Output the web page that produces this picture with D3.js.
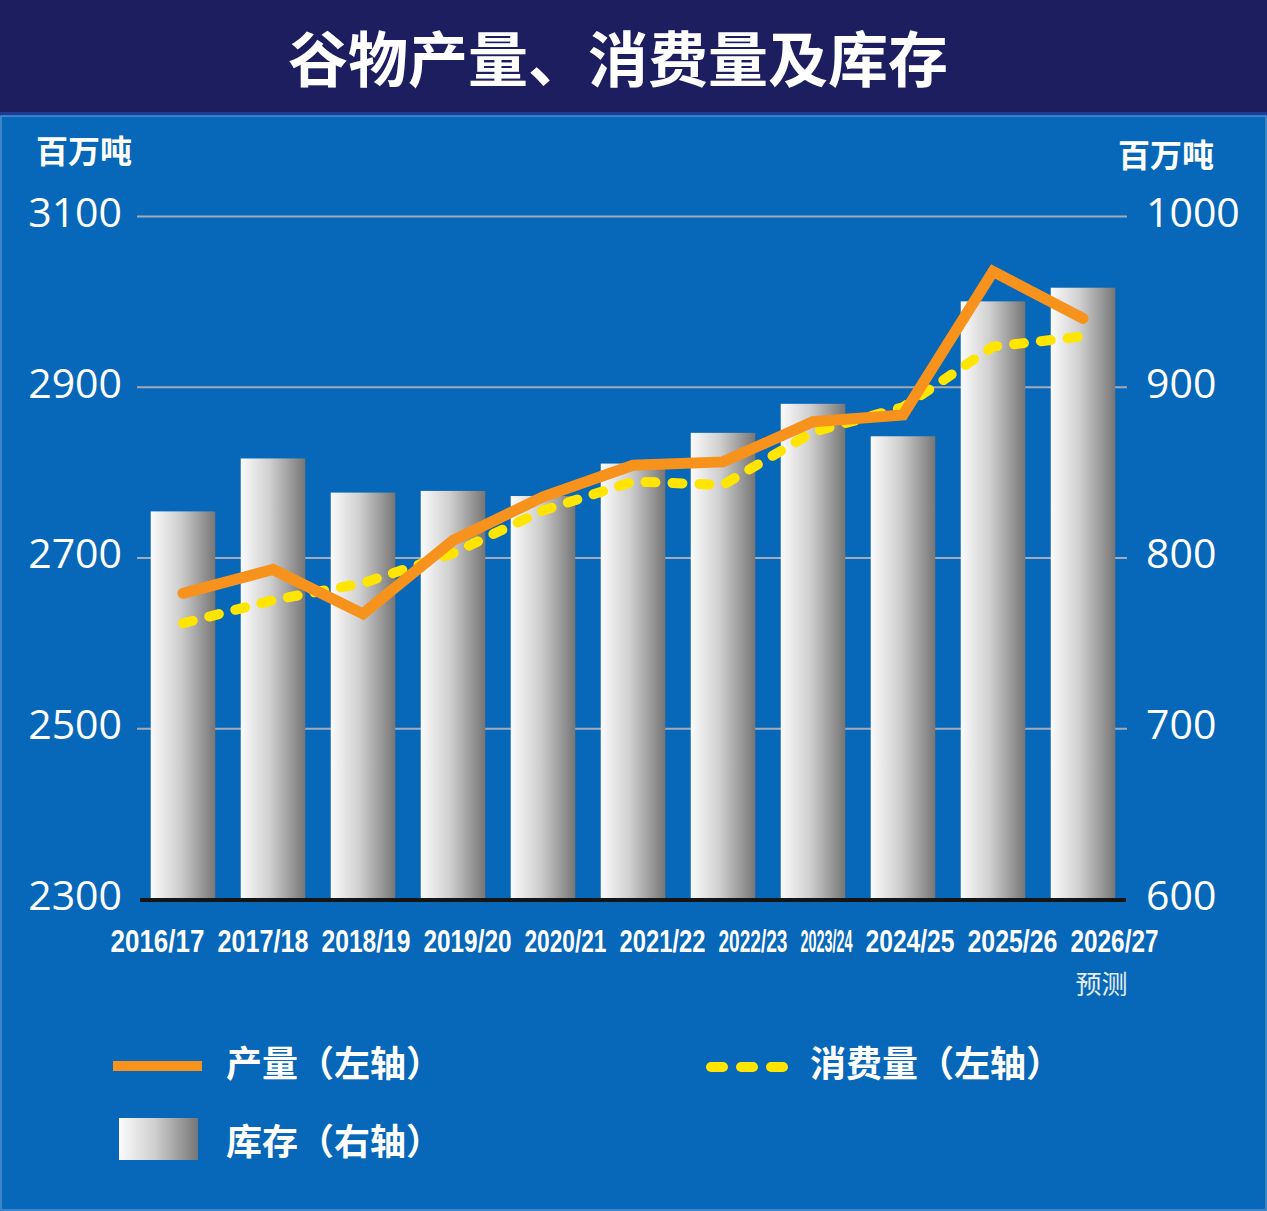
<!DOCTYPE html>
<html>
<head>
<meta charset="utf-8">
<script src="https://cdnjs.cloudflare.com/ajax/libs/d3/7.8.5/d3.min.js"></script>
<style>
  body { margin: 0; background: #0767b6; }
  svg { display: block; }
</style>
</head>
<body>
<div id="chart"></div>
<script>
// values (million tonnes)
var years = ["2016/17", "2017/18", "2018/19", "2019/20", "2020/21", "2021/22",
             "2022/23", "2023/24", "2024/25", "2025/26", "2026/27"];
var production  = [2658, 2686, 2634, 2720, 2771, 2808, 2812, 2859, 2867, 3035, 2980];
var consumption = [2623, 2650, 2670, 2705, 2755, 2789, 2785, 2847, 2876, 2947, 2959];
var stocks      = [827, 858, 838, 839, 836, 855, 873, 890, 871, 950, 958];
var leftTicks  = [2300, 2500, 2700, 2900, 3100];
var rightTicks = [600, 700, 800, 900, 1000];

var W = 1267, H = 1211;
var blue = "#0767b8", navy = "#1c1e60";
var orange = "#f7921c", yellow = "#ffe500";
var cjk = "'Noto Sans CJK SC', 'Noto Sans', sans-serif";

var svg = d3.select("#chart").append("svg")
  .attr("width", W)
  .attr("height", H);

var defs = svg.append("defs");
var grad = defs.append("linearGradient")
  .attr("id", "barGrad")
  .attr("x1", "0%").attr("x2", "100%")
  .attr("y1", "0%").attr("y2", "0%");
grad.append("stop").attr("offset", "0%").attr("stop-color", "#fbfbfb");
grad.append("stop").attr("offset", "45%").attr("stop-color", "#cfcfcf");
grad.append("stop").attr("offset", "100%").attr("stop-color", "#767676");

// background + title band
svg.append("rect").attr("width", W).attr("height", H).attr("fill", blue);
svg.append("rect").attr("width", W).attr("height", 113).attr("fill", navy);
svg.append("rect").attr("y", 112).attr("width", W).attr("height", 4).attr("fill", "#1b3d98");
svg.append("rect").attr("x", 1).attr("y", 116).attr("width", W - 2).attr("height", H - 117)
  .attr("fill", "none").attr("stroke", "#4f8fcc").attr("stroke-width", 1.5);

svg.append("text")
  .attr("x", 618).attr("y", 55)
  .attr("text-anchor", "middle")
  .attr("dominant-baseline", "central")
  .attr("fill", "#fff")
  .style("font-family", cjk)
  .style("font-weight", 700)
  .style("font-size", "60px")
  .text("谷物产量、消费量及库存");

// scales
var x = d3.scaleBand().domain(years).range([138, 1128])
  .paddingInner(0.283).paddingOuter(0.1415);
var yL = d3.scaleLinear().domain([2300, 3100]).range([899, 216]);
var yR = d3.scaleLinear().domain([600, 1000]).range([899, 216]);

// gridlines
svg.append("g")
  .attr("transform", "translate(1127,0)")
  .call(d3.axisLeft(yL).tickValues(leftTicks.slice(1)).tickSize(990).tickFormat(""))
  .call(function (g) {
    g.select(".domain").remove();
    g.selectAll("line").attr("stroke", "#a3abba").attr("stroke-width", 2);
  });

// axis labels
function styleTicks(g) {
  g.select(".domain").remove();
  g.selectAll("text")
    .attr("dy", "0.25em")
    .attr("fill", "#fff")
    .style("font-family", "'Open Sans', sans-serif")
    .style("font-size", "41px");
}

svg.append("g")
  .attr("transform", "translate(122,0)")
  .call(d3.axisLeft(yL).tickValues(leftTicks).tickSize(0).tickPadding(0).tickFormat(d3.format("d")))
  .call(styleTicks);

svg.append("g")
  .attr("transform", "translate(1146,0)")
  .call(d3.axisRight(yR).tickValues(rightTicks).tickSize(0).tickPadding(0).tickFormat(d3.format("d")))
  .call(styleTicks);

svg.append("text").attr("x", 36).attr("y", 149)
  .attr("dominant-baseline", "central").attr("fill", "#fff")
  .style("font-family", cjk).style("font-weight", 700).style("font-size", "32px")
  .text("百万吨");
svg.append("text").attr("x", 1118).attr("y", 153)
  .attr("dominant-baseline", "central").attr("fill", "#fff")
  .style("font-family", cjk).style("font-weight", 700).style("font-size", "32px")
  .text("百万吨");

// stock bars (right axis)
svg.append("g").selectAll("rect")
  .data(stocks)
  .enter().append("rect")
  .attr("x", function (d, i) { return x(years[i]); })
  .attr("y", function (d) { return yR(d); })
  .attr("width", x.bandwidth())
  .attr("height", function (d) { return yR(600) - yR(d); })
  .attr("fill", "url(#barGrad)");

// baseline
svg.append("line")
  .attr("x1", 140).attr("x2", 1126)
  .attr("y1", yL(2300) + 1).attr("y2", yL(2300) + 1)
  .attr("stroke", "#151515").attr("stroke-width", 4);

// lines (left axis)
var line = d3.line()
  .x(function (d, i) { return x(years[i]) + x.bandwidth() / 2; })
  .y(function (d) { return yL(d); });

svg.append("path")
  .datum(consumption)
  .attr("d", line)
  .attr("fill", "none")
  .attr("stroke", yellow)
  .attr("stroke-width", 10)
  .attr("stroke-linecap", "round")
  .attr("stroke-dasharray", "10,17");

svg.append("path")
  .datum(production)
  .attr("d", line)
  .attr("fill", "none")
  .attr("stroke", orange)
  .attr("stroke-width", 11)
  .attr("stroke-linejoin", "miter")
  .attr("stroke-linecap", "round");

// category labels, set as one running condensed line like the original
var labelWidth = [94, 91, 89, 88, 82, 86, 69, 52, 89, 90, 88];
var labelGap = 13;
var labelX = [];
var cursor = 110.5;
labelWidth.forEach(function (w) { labelX.push(cursor); cursor += w + labelGap; });

svg.append("g").selectAll("text")
  .data(years)
  .enter().append("text")
  .attr("fill", "#fff")
  .style("font-family", "'Liberation Sans', Arial, sans-serif")
  .style("font-weight", 700)
  .style("font-size", "32px")
  .text(function (d) { return d; })
  .attr("transform", function (d, i) {
    var natural = this.getComputedTextLength();
    var sx = labelWidth[i] / natural;
    return "translate(" + labelX[i] + ",952) scale(" + sx + ",1)";
  });

svg.append("text")
  .attr("x", labelX[10] + labelWidth[10] / 2 - 13).attr("y", 982)
  .attr("text-anchor", "middle")
  .attr("dominant-baseline", "central")
  .attr("fill", "#e6edf5")
  .style("font-family", cjk)
  .style("font-size", "26px")
  .text("预测");

// legend
function legendText(tx, ty, label) {
  svg.append("text")
    .attr("x", tx).attr("y", ty)
    .attr("dominant-baseline", "central")
    .attr("fill", "#fff")
    .style("font-family", cjk)
    .style("font-weight", 700)
    .style("font-size", "36px")
    .text(label);
}

svg.append("rect")
  .attr("x", 113).attr("y", 1061).attr("width", 89).attr("height", 10)
  .attr("fill", orange);
legendText(226, 1061, "产量（左轴）");

svg.append("line")
  .attr("x1", 711).attr("x2", 784)
  .attr("y1", 1067).attr("y2", 1067)
  .attr("stroke", yellow)
  .attr("stroke-width", 10)
  .attr("stroke-linecap", "round")
  .attr("stroke-dasharray", "12,18");
legendText(810, 1061, "消费量（左轴）");

svg.append("rect")
  .attr("x", 119).attr("y", 1118).attr("width", 79).attr("height", 42)
  .attr("fill", "url(#barGrad)");
legendText(226, 1139, "库存（右轴）");
</script>
</body>
</html>
